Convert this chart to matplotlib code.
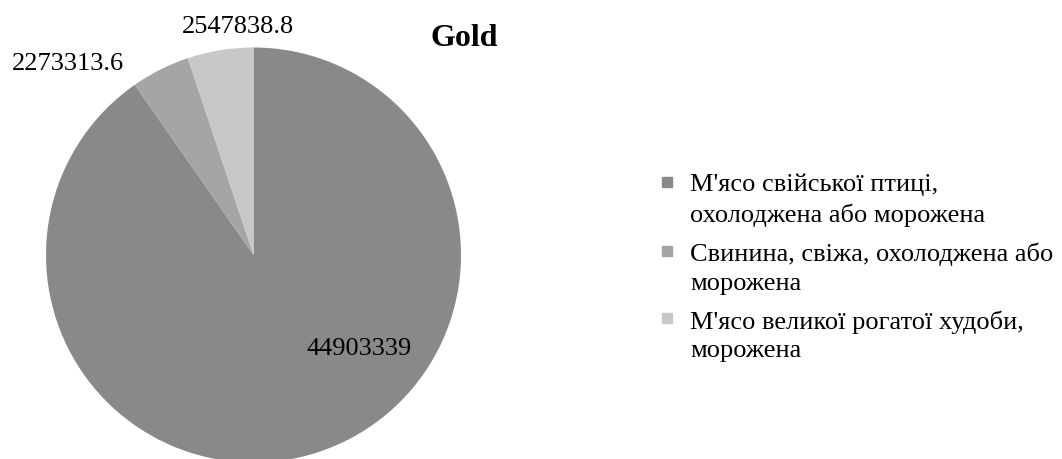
import matplotlib.pyplot as plt
from matplotlib.patches import Rectangle

# chart data
categories = [
    "М'ясо свійської птиці,\nохолоджена або морожена",
    "Свинина, свіжа, охолоджена або\nморожена",
    "М'ясо великої рогатої худоби,\nморожена",
]
values = [44903339, 2273313.6, 2547838.8]
value_labels = ["44903339", "2273313.6", "2547838.8"]
colors = ["#898989", "#a5a5a5", "#c8c8c8"]
title = "Gold"

# label positions in pie radius units (Excel "best fit" placement)
label_pos = [(0.508, -0.448), (-0.894, 0.925), (-0.075, 1.106)]

plt.rcParams['font.family'] = ['Liberation Serif', 'DejaVu Serif']

W, H = 1062, 460
fig = plt.figure(figsize=(W / 100, H / 100), dpi=100)

# square axes in pixels: centre (253.5, 256), radius 207.5
cx, cy, r = 253.5, 256, 207.5
ax = fig.add_axes([(cx - r) / W, (H - cy - r) / H, 2 * r / W, 2 * r / H])
ax.pie(values, colors=colors, startangle=90, counterclock=False,
       wedgeprops={'linewidth': 0})
ax.set_xlim(-1, 1)
ax.set_ylim(-1, 1)
ax.axis('off')

for (x, y), txt in zip(label_pos, value_labels):
    ax.text(x, y, txt, ha='center', va='center', fontsize=19, clip_on=False)

fig.text(464 / W, 1 - 39 / H, title, ha='center', va='center',
         fontsize=23, fontweight='bold')

# legend drawn by hand so the marker sits on the first line
tops = [174, 243, 310]
for top, cat, col in zip(tops, categories, colors):
    fig.patches.append(Rectangle((662 / W, 1 - (top + 14) / H), 10 / W, 10 / H,
                                 transform=fig.transFigure, color=col))
    fig.text(690 / W, 1 - top / H, cat, ha='left', va='top',
             fontsize=19, linespacing=1.4)

fig.savefig('out.png', dpi=100)
